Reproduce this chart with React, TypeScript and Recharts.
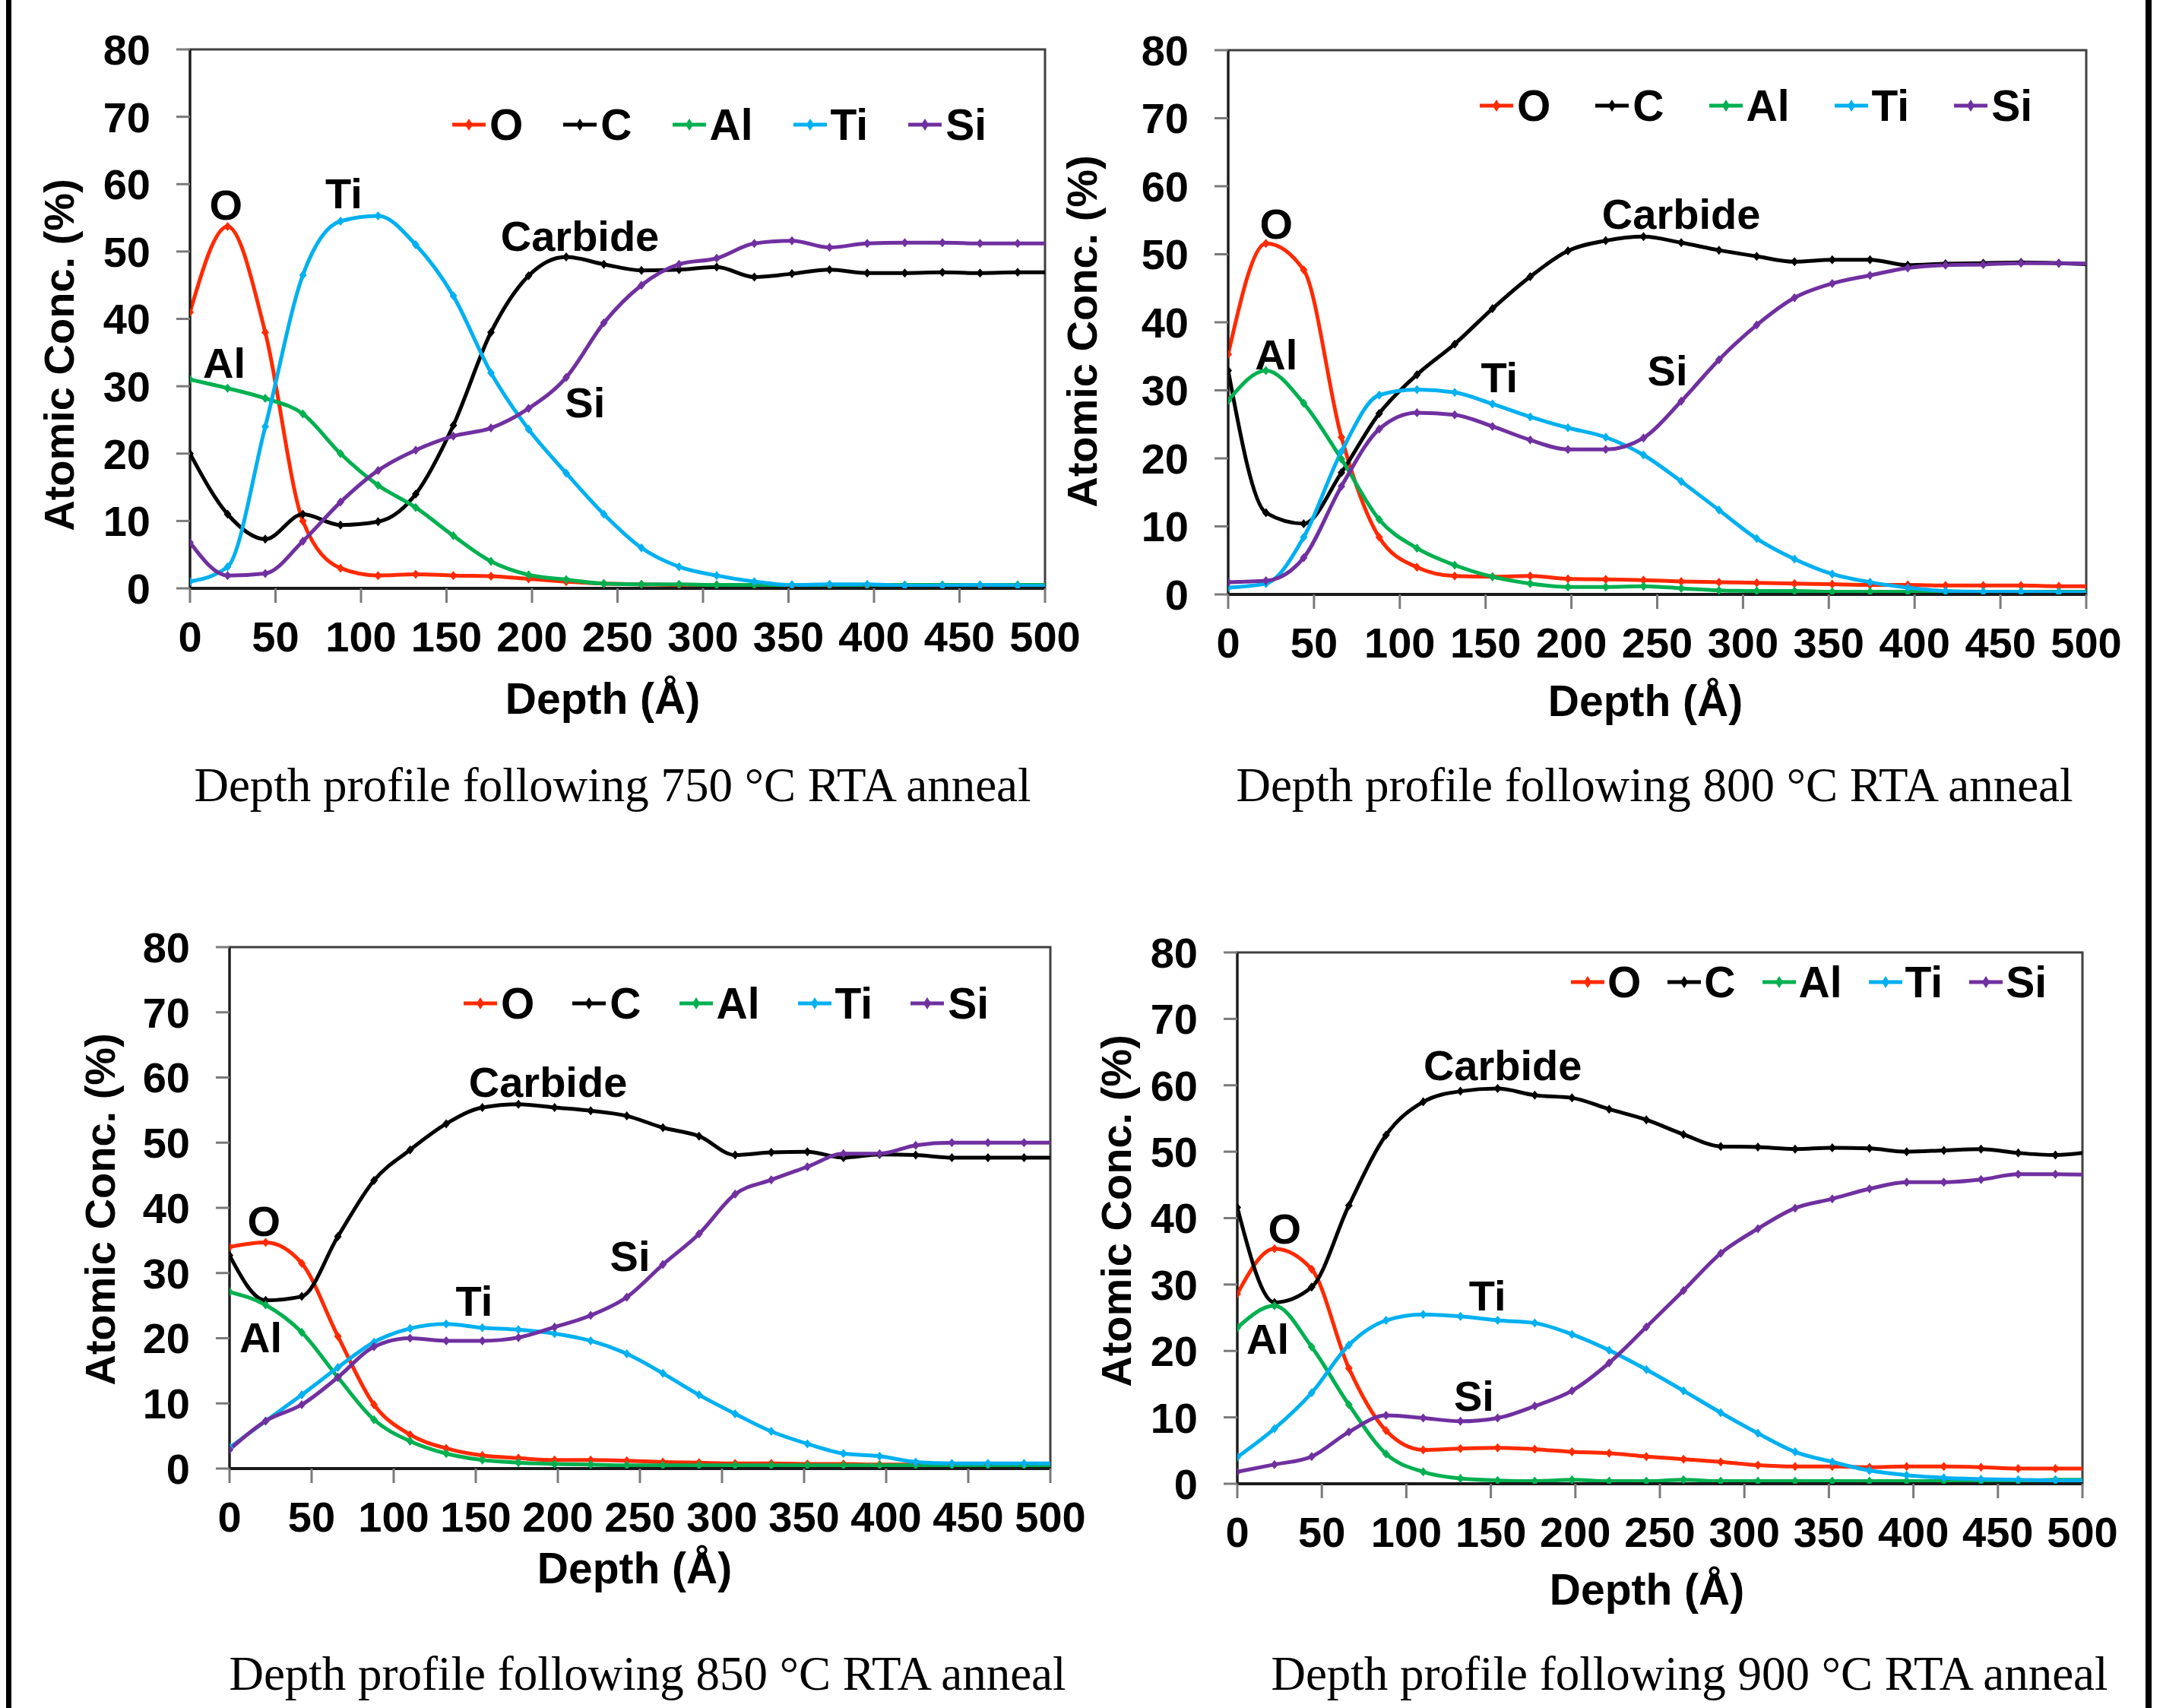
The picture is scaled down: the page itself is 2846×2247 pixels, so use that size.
import React from 'react';
import { LineChart, Line, XAxis, YAxis, ReferenceArea, ReferenceDot, Legend } from 'recharts';

// depth in Angstrom, one sputter step is ~22 A (last point lies past the 500 A edge)
const depth = [0, 22, 44, 66, 88, 110, 132, 154, 176, 198, 220, 242, 264, 286, 308, 330, 352, 374, 396, 418, 440, 462, 484, 506];

const xTicks = [0, 50, 100, 150, 200, 250, 300, 350, 400, 450, 500];
const yTicks = [0, 10, 20, 30, 40, 50, 60, 70, 80];

// 750 C
const o750 = [41, 53.7, 38, 10, 3, 1.9, 2.1, 1.9, 1.8, 1.4, 1.0, 0.7, 0.6, 0.5, 0.5, 0.5, 0.4, 0.4, 0.4, 0.4, 0.4, 0.4, 0.4, 0.4];
const c750 = [20, 11, 7.3, 11, 9.4, 9.9, 14, 24.2, 38, 46.4, 49.2, 48.1, 47.2, 47.3, 47.7, 46.2, 46.7, 47.3, 46.8, 46.8, 46.9, 46.8, 46.9, 46.9];
const al750 = [31, 29.7, 28.2, 25.9, 20, 15.3, 12, 7.8, 4, 2, 1.3, 0.7, 0.6, 0.6, 0.5, 0.5, 0.5, 0.5, 0.5, 0.5, 0.5, 0.5, 0.5, 0.5];
const ti750 = [1, 3.2, 24, 46.5, 54.5, 55.3, 51, 43.4, 32, 23.6, 17.1, 11, 6, 3.2, 1.9, 1, 0.5, 0.6, 0.6, 0.4, 0.4, 0.5, 0.4, 0.3];
const si750 = [6.8, 1.9, 2.2, 7, 12.8, 17.5, 20.5, 22.6, 23.8, 26.7, 31.3, 39.4, 45, 48.1, 49, 51.2, 51.6, 50.6, 51.2, 51.3, 51.3, 51.2, 51.2, 51.2];

// 800 C
const o800 = [35.3, 51.6, 47.7, 23.1, 8.4, 4, 2.7, 2.6, 2.7, 2.3, 2.2, 2.1, 1.9, 1.8, 1.7, 1.6, 1.5, 1.4, 1.4, 1.3, 1.3, 1.3, 1.2, 1.2];
const c800 = [32.9, 12, 10.4, 17.9, 26.6, 32.3, 36.8, 42, 46.7, 50.5, 52, 52.6, 51.7, 50.6, 49.7, 48.9, 49.2, 49.2, 48.4, 48.6, 48.7, 48.8, 48.7, 48.5];
const al800 = [28.5, 32.9, 28.1, 19.9, 11, 6.8, 4.3, 2.6, 1.6, 1.1, 1.1, 1.2, 0.9, 0.6, 0.5, 0.5, 0.4, 0.4, 0.4, 0.4, 0.4, 0.4, 0.4, 0.4];
const ti800 = [1, 1.6, 8.4, 21, 29.3, 30.1, 29.7, 28, 26.1, 24.5, 23.1, 20.5, 16.6, 12.4, 8.2, 5.2, 3, 1.8, 1, 0.5, 0.4, 0.4, 0.3, 0.3];
const si800 = [1.8, 2, 5.4, 15.9, 24.3, 26.7, 26.4, 24.7, 22.7, 21.3, 21.3, 23, 28.4, 34.5, 39.6, 43.6, 45.7, 46.9, 48, 48.4, 48.5, 48.7, 48.7, 48.6];

// 850 C
const o850 = [34, 34.7, 31.5, 20.3, 9.8, 5.2, 3.1, 2, 1.6, 1.3, 1.3, 1.2, 1.0, 0.9, 0.8, 0.8, 0.7, 0.7, 0.6, 0.6, 0.6, 0.6, 0.6, 0.6];
const c850 = [32.7, 25.8, 26.4, 35.6, 44.2, 48.9, 52.9, 55.4, 55.9, 55.4, 54.9, 54.1, 52.3, 51, 48.1, 48.5, 48.6, 47.7, 48.2, 48.1, 47.7, 47.7, 47.7, 47.7];
const al850 = [27.1, 25.1, 20.9, 14, 7.5, 4.2, 2.3, 1.3, 0.9, 0.7, 0.6, 0.5, 0.5, 0.5, 0.5, 0.5, 0.5, 0.5, 0.5, 0.5, 0.5, 0.5, 0.5, 0.5];
const ti850 = [3.2, 7.3, 11.3, 15.5, 19.4, 21.5, 22.2, 21.6, 21.3, 20.7, 19.6, 17.6, 14.6, 11.3, 8.4, 5.7, 3.8, 2.3, 1.9, 1.0, 0.8, 0.8, 0.8, 0.8];
const si850 = [2.9, 7.3, 9.8, 14, 18.7, 20, 19.6, 19.6, 20.1, 21.7, 23.5, 26.3, 31.3, 36, 42.1, 44.3, 46.3, 48.3, 48.3, 49.6, 50, 50, 50, 50];

// 900 C
const o900 = [28.6, 35.4, 32.3, 17.4, 8, 5.1, 5.3, 5.4, 5.2, 4.8, 4.6, 4.1, 3.7, 3.3, 2.8, 2.6, 2.6, 2.5, 2.6, 2.6, 2.5, 2.3, 2.3, 2.3];
const c900 = [41.6, 27.3, 29.6, 41.9, 52.5, 57.5, 59.1, 59.5, 58.5, 58.1, 56.4, 54.8, 52.6, 50.8, 50.7, 50.4, 50.6, 50.5, 50.0, 50.2, 50.4, 49.8, 49.5, 50];
const al900 = [23.5, 26.8, 20.6, 11.9, 4.5, 1.8, 0.8, 0.5, 0.4, 0.6, 0.4, 0.4, 0.6, 0.4, 0.4, 0.4, 0.4, 0.4, 0.4, 0.4, 0.4, 0.4, 0.6, 0.6];
const ti900 = [4, 8.3, 13.7, 20.9, 24.6, 25.5, 25.2, 24.6, 24.2, 22.5, 20.1, 17.2, 14, 10.7, 7.6, 4.8, 3.3, 2, 1.3, 0.9, 0.7, 0.6, 0.5, 0.5];
const si900 = [1.8, 2.9, 4.1, 7.8, 10.3, 9.9, 9.4, 9.9, 11.7, 14, 18.2, 23.6, 29.1, 34.7, 38.4, 41.5, 42.9, 44.4, 45.4, 45.4, 45.8, 46.6, 46.6, 46.5];

const elements = ['O', 'C', 'Al', 'Ti', 'Si'];
const colors: Record<string, string> = { O: '#ff2a00', C: '#000000', Al: '#00b050', Ti: '#00b0f0', Si: '#7030a0' };

const SANS = '"Liberation Sans", Arial, sans-serif';
const SERIF = '"Liberation Serif", "Times New Roman", serif';

const rows = (o: number[], c: number[], al: number[], ti: number[], si: number[]) =>
  depth.map((d, i) => ({ depth: d, O: o[i], C: c[i], Al: al[i], Ti: ti[i], Si: si[i] }));

const makeDot = (color: string) => (p: any) => {
  if (p.cx == null || p.cy == null) return <g key={`n-${p.index}`} />;
  const { cx, cy } = p;
  return <path key={`d-${p.index}`} d={`M${cx},${cy - 6}L${cx + 5},${cy}L${cx},${cy + 6}L${cx - 5},${cy}Z`} fill={color} />;
};

const makeLegend = (gap: number, textGap: number) => (props: any) => {
  // keep the series order (O, C, Al, Ti, Si) instead of the alphabetical one
  const items = [...(props.payload || [])].sort(
    (a: any, b: any) => elements.indexOf(a.value) - elements.indexOf(b.value)
  );
  return (
    <div style={{ display: 'flex', alignItems: 'center', height: 60, whiteSpace: 'nowrap' }}>
      {items.map((e: any, i: number) => (
        <div key={e.value} style={{ display: 'flex', alignItems: 'center', marginLeft: i ? gap : 0 }}>
          <svg width={44} height={20} style={{ display: 'block' }}>
            <line x1={0} y1={10} x2={44} y2={10} stroke={e.color} strokeWidth={5} />
            <path d="M22,2L27,10L22,18L17,10Z" fill={e.color} />
          </svg>
          <span style={{ marginLeft: textGap, fontFamily: SANS, fontWeight: 'bold', fontSize: 57, lineHeight: '60px', color: '#000' }}>
            {e.value}
          </span>
        </div>
      ))}
    </div>
  );
};

type Note = { text: string; x: number; y: number };

type PanelProps = {
  data: any[];
  L: number; R: number; T: number; B: number;
  legendX: number; legendY: number; gap: number; textGap: number;
  notes: Note[];
};

const tickFont = { fill: '#000', fontSize: 56, fontWeight: 'bold', fontFamily: SANS };

const Panel: React.FC<PanelProps> = ({ data, L, R, T, B, legendX, legendY, gap, textGap, notes }) => {
  const left = L - 170;
  const top = T - 30;
  const w = R - L + 170 + 70;
  const h = B - T + 140;
  return (
    <div style={{ position: 'absolute', left, top, width: w, height: h }}>
      <LineChart width={w} height={h} data={data} margin={{ top: 30, right: 70, left: 0, bottom: 0 }}>
        <XAxis
          dataKey="depth" type="number" domain={[0, 500]} ticks={xTicks} interval={0} allowDataOverflow
          height={110} tickSize={19} tickMargin={24}
          axisLine={{ stroke: '#1a1a1a', strokeWidth: 4 }} tickLine={{ stroke: '#7a7a7a', strokeWidth: 3 }}
          tick={tickFont}
        />
        <YAxis
          type="number" domain={[0, 80]} ticks={yTicks} interval={0} allowDataOverflow
          width={170} tickSize={18} tickMargin={34}
          axisLine={{ stroke: '#1a1a1a', strokeWidth: 3 }} tickLine={{ stroke: '#7a7a7a', strokeWidth: 3 }}
          tick={tickFont}
        />
        <ReferenceArea x1={0} x2={500} y1={0} y2={80} fill="none" stroke="#404040" strokeWidth={3} />
        {elements.map((el) => (
          <Line
            key={el} dataKey={el} name={el} type="monotone" stroke={colors[el]} strokeWidth={5}
            dot={makeDot(colors[el])} activeDot={false} isAnimationActive={false}
          />
        ))}
        {notes.map((n) => (
          <ReferenceDot
            key={n.text} x={n.x} y={n.y} r={0} fill="none" stroke="none"
            label={{ value: n.text, position: 'center', fill: '#000', fontSize: 56, fontWeight: 'bold', fontFamily: SANS }}
          />
        ))}
        <Legend
          layout="horizontal" verticalAlign="middle" align="center"
          content={makeLegend(gap, textGap)}
          wrapperStyle={{ left: legendX - left, top: legendY - top - 30, width: 'auto', height: 60 }}
        />
      </LineChart>
    </div>
  );
};

const captions = [
  { text: 'Depth profile following 750 °C RTA anneal', x: 806, y: 1054 },
  { text: 'Depth profile following 800 °C RTA anneal', x: 2177, y: 1054 },
  { text: 'Depth profile following 850 °C RTA anneal', x: 852, y: 2223 },
  { text: 'Depth profile following 900 °C RTA anneal', x: 2223, y: 2223 },
];
const xTitles = [
  { x: 793, y: 939 },
  { x: 2165, y: 942 },
  { x: 835, y: 2083 },
  { x: 2167, y: 2111 },
];
const yTitles = [
  { x: 97, y: 467 },
  { x: 1443, y: 436 },
  { x: 151, y: 1591 },
  { x: 1488, y: 1593 },
];

export default function App() {
  return (
    <div style={{ position: 'absolute', left: 0, top: 0, width: 2846, height: 2247, background: '#fff', overflow: 'hidden' }}>
      <div style={{ position: 'absolute', left: 8, top: 0, width: 7, height: 2247, background: '#000' }} />
      <div style={{ position: 'absolute', left: 2823, top: 0, width: 8, height: 2247, background: '#000' }} />

      <Panel
        data={rows(o750, c750, al750, ti750, si750)}
        L={250} R={1375} T={65} B={774}
        legendX={595} legendY={164} gap={53} textGap={5}
        notes={[
          { text: 'O', x: 21, y: 57 },
          { text: 'Ti', x: 90, y: 58.7 },
          { text: 'Carbide', x: 228, y: 52.3 },
          { text: 'Al', x: 20, y: 33.5 },
          { text: 'Si', x: 231, y: 27.6 },
        ]}
      />
      <Panel
        data={rows(o800, c800, al800, ti800, si800)}
        L={1616} R={2745} T={66} B={782}
        legendX={1947} legendY={139} gap={59} textGap={5}
        notes={[
          { text: 'O', x: 28, y: 54.5 },
          { text: 'Carbide', x: 264, y: 56 },
          { text: 'Al', x: 28, y: 35.3 },
          { text: 'Ti', x: 158, y: 31.9 },
          { text: 'Si', x: 256, y: 32.9 },
        ]}
      />
      <Panel
        data={rows(o850, c850, al850, ti850, si850)}
        L={302} R={1382} T={1246} B={1932}
        legendX={610} legendY={1320} gap={50} textGap={5}
        notes={[
          { text: 'O', x: 21, y: 38 },
          { text: 'Carbide', x: 194, y: 59.4 },
          { text: 'Ti', x: 149, y: 25.8 },
          { text: 'Si', x: 244, y: 32.6 },
          { text: 'Al', x: 19, y: 20.2 },
        ]}
      />
      <Panel
        data={rows(o900, c900, al900, ti900, si900)}
        L={1628} R={2740} T={1253} B={1952}
        legendX={2067} legendY={1292} gap={35} textGap={4}
        notes={[
          { text: 'O', x: 28, y: 38.4 },
          { text: 'Carbide', x: 157, y: 63 },
          { text: 'Ti', x: 148, y: 28.4 },
          { text: 'Si', x: 140, y: 13.3 },
          { text: 'Al', x: 18, y: 21.9 },
        ]}
      />

      <svg width={2846} height={2247} style={{ position: 'absolute', left: 0, top: 0, pointerEvents: 'none' }}>
        {captions.map((c) => (
          <text key={c.text} x={c.x} y={c.y} textAnchor="middle" fontFamily={SERIF} fontSize={63} fill="#000">
            {c.text}
          </text>
        ))}
        {xTitles.map((t, i) => (
          <text key={`x${i}`} x={t.x} y={t.y} textAnchor="middle" fontFamily={SANS} fontWeight="bold" fontSize={57} fill="#000">
            Depth (Å)
          </text>
        ))}
        {yTitles.map((t, i) => (
          <text
            key={`y${i}`} x={t.x} y={t.y} textAnchor="middle" fontFamily={SANS} fontWeight="bold" fontSize={56} fill="#000"
            transform={`rotate(-90 ${t.x} ${t.y})`}
          >
            Atomic Conc. (%)
          </text>
        ))}
      </svg>
    </div>
  );
}
